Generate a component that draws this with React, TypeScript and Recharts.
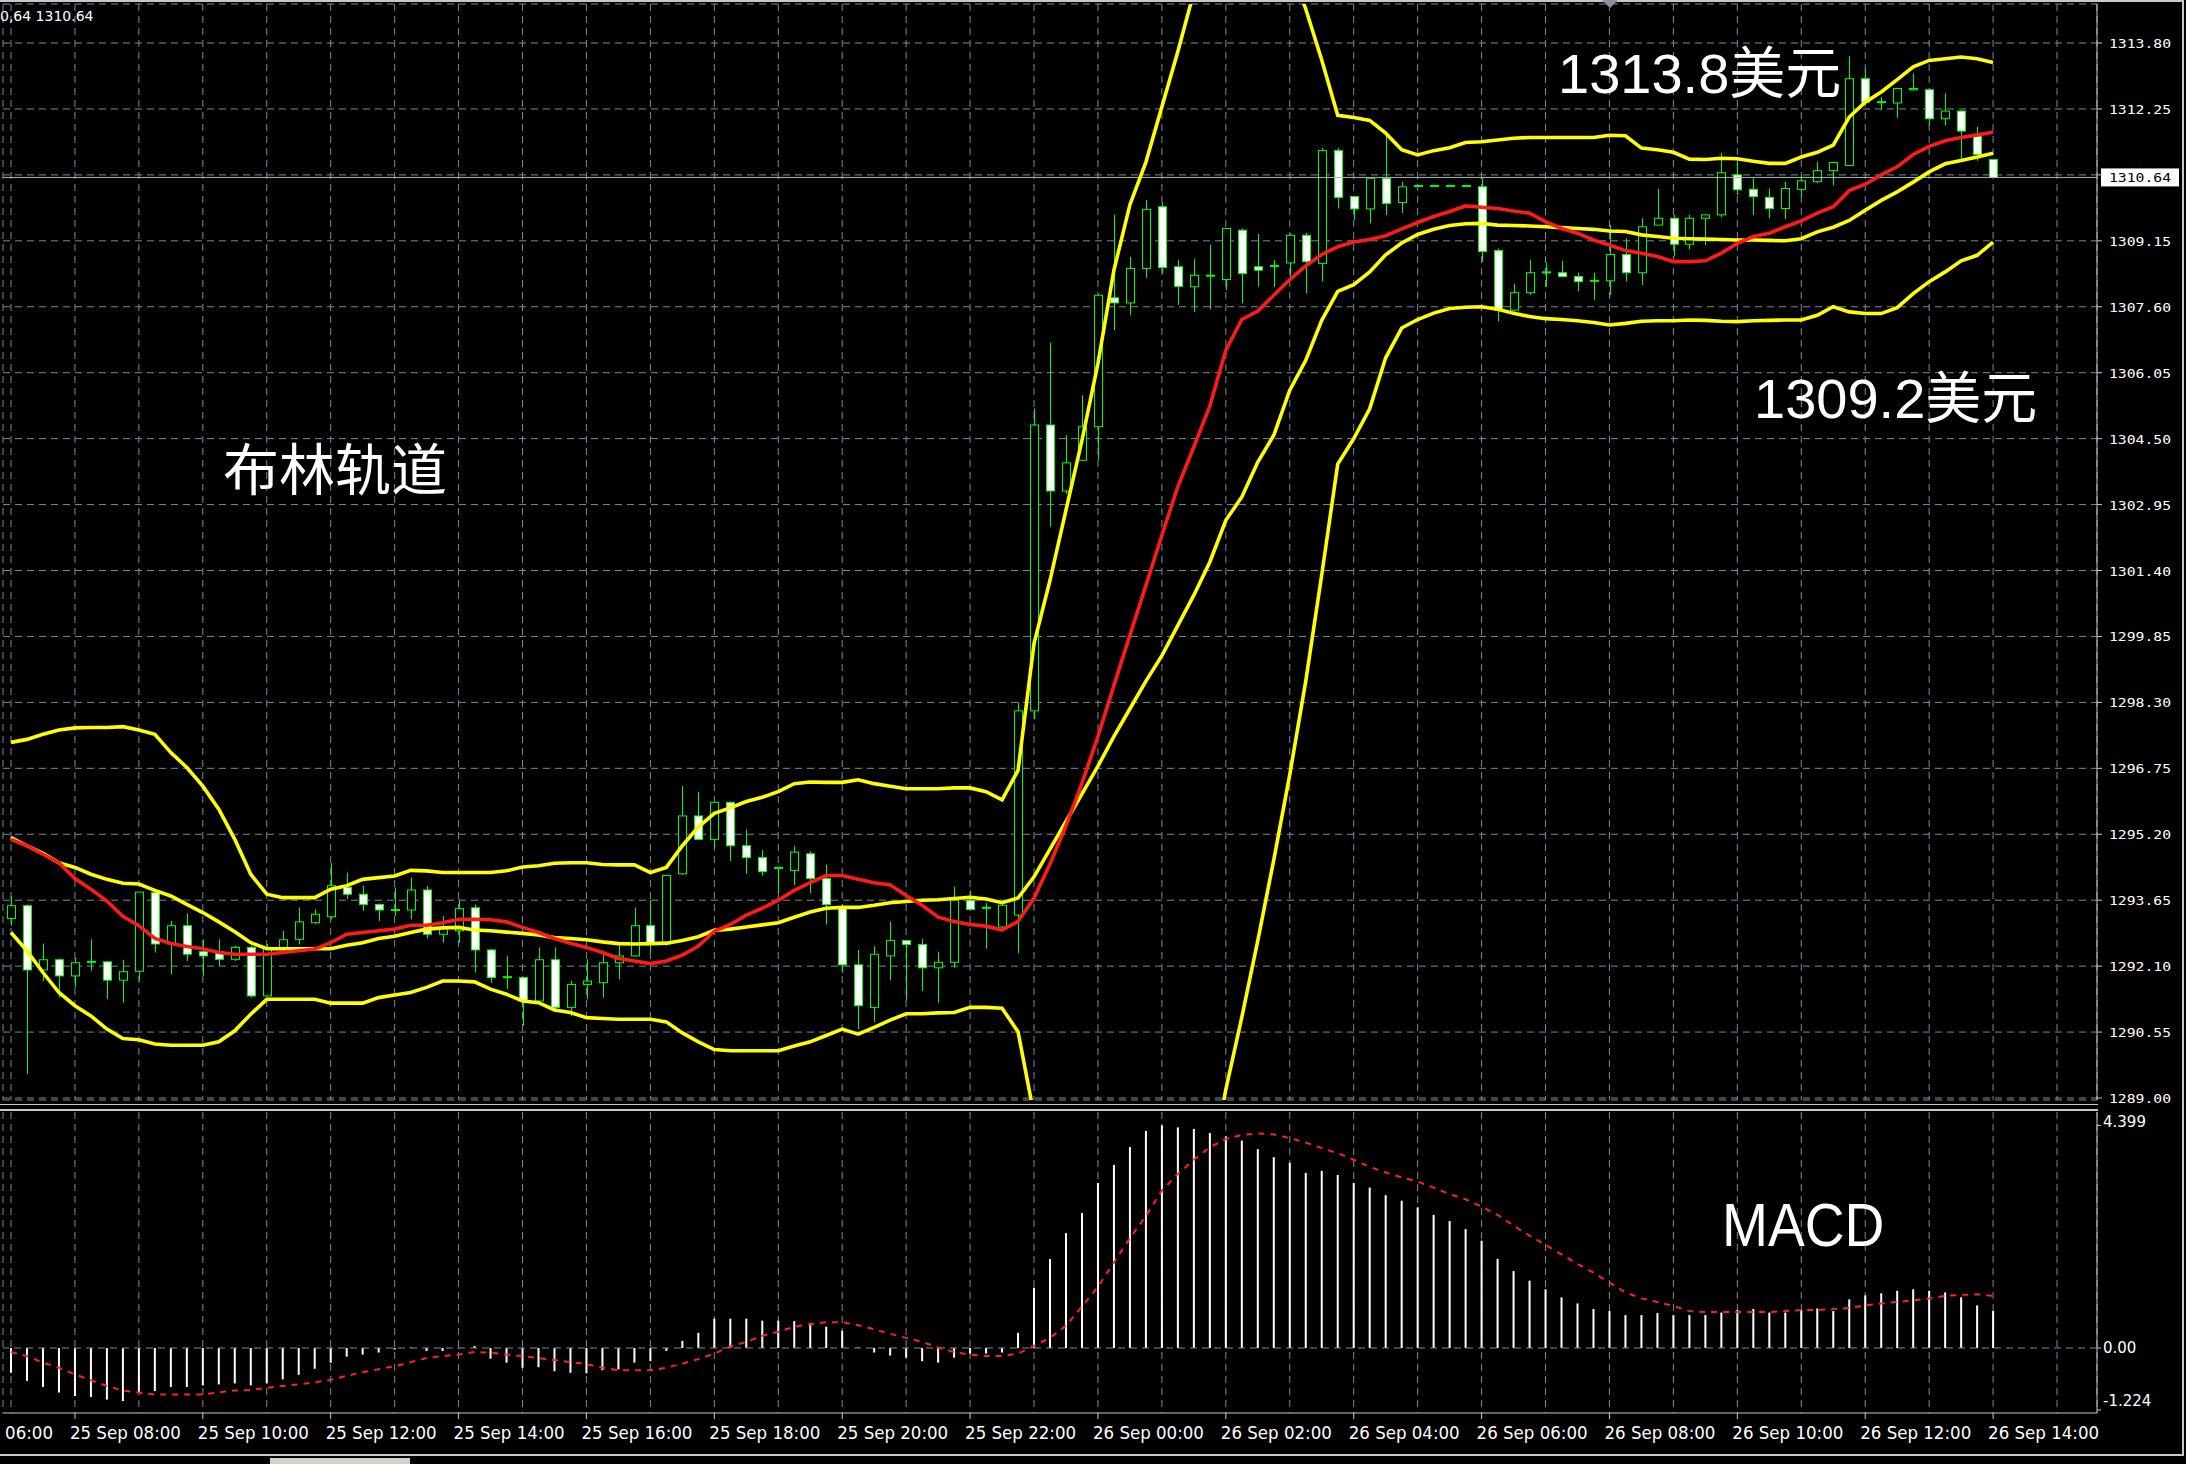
import { ComposedChart, Bar, Line, XAxis, YAxis, CartesianGrid, ReferenceLine } from "recharts";

// 15-minute bars, XAUUSD, 25 Sep 07:00 -> 26 Sep 14:00
const opens = [
  1293.22, 1293.52, 1292.01, 1292.25, 1291.87, 1292.18, 1292.2, 1291.77, 1291.98, 1293.83,
  1292.62, 1293.05, 1292.44, 1292.44, 1292.26, 1292.54, 1291.4, 1292.54, 1292.73, 1293.12,
  1293.26, 1293.95, 1293.79, 1293.55, 1293.42, 1293.42, 1293.89, 1292.85, 1292.93, 1293.47,
  1292.48, 1291.83, 1291.83, 1291.28, 1292.25, 1291.13, 1291.67, 1291.71, 1292.18, 1292.34,
  1293.05, 1292.62, 1294.27, 1295.63, 1295.08, 1295.95, 1294.93, 1294.65, 1294.41, 1294.35,
  1294.74, 1294.16, 1293.5, 1292.13, 1291.13, 1292.34, 1292.7, 1292.61, 1292.06, 1292.19,
  1293.65, 1293.47, 1293.02, 1293.3, 1298.1, 1304.82, 1303.27, 1303.99, 1304.78, 1307.81,
  1307.69, 1308.5, 1309.95, 1308.54, 1308.07, 1308.33, 1308.24, 1309.4, 1308.54, 1308.56,
  1308.63, 1309.28, 1308.62, 1311.27, 1310.19, 1309.9, 1310.62, 1310.05, 1310.44, 1310.44,
  1310.44, 1310.44, 1310.42, 1308.92, 1307.52, 1307.93, 1308.4, 1308.4, 1308.31, 1308.21,
  1308.21, 1308.83, 1308.4, 1309.52, 1309.68, 1309.07, 1309.68, 1309.76, 1310.7, 1310.36,
  1310.17, 1309.91, 1310.36, 1310.54, 1310.8, 1310.92, 1312.96, 1312.41, 1312.39, 1312.7,
  1312.7, 1312.02, 1312.2, 1311.61, 1311.06,
];
const highs = [
  1293.75, 1293.55, 1292.63, 1292.28, 1292.3, 1292.73, 1292.22, 1292.25, 1293.84, 1293.85,
  1293.16, 1293.34, 1292.73, 1292.73, 1292.58, 1292.58, 1292.62, 1292.93, 1293.48, 1293.44,
  1294.52, 1294.3, 1293.99, 1293.57, 1293.95, 1294.18, 1293.99, 1293.28, 1293.67, 1293.55,
  1292.5, 1292.34, 1291.85, 1292.54, 1292.54, 1291.75, 1292.26, 1292.42, 1292.61, 1293.48,
  1293.65, 1294.23, 1296.33, 1296.2, 1295.97, 1295.97, 1295.31, 1294.83, 1294.43, 1294.93,
  1294.8, 1294.48, 1293.55, 1292.48, 1292.57, 1293.14, 1292.72, 1292.74, 1292.44, 1293.97,
  1293.88, 1293.59, 1293.6, 1298.3, 1305.21, 1306.76, 1304.58, 1305.52, 1307.9, 1309.77,
  1308.77, 1310.11, 1310.05, 1308.7, 1308.73, 1309.06, 1309.44, 1309.44, 1309.31, 1308.7,
  1309.32, 1309.34, 1311.33, 1311.33, 1310.2, 1310.62, 1311.72, 1310.54, 1310.44, 1310.44,
  1310.44, 1310.44, 1310.62, 1308.97, 1308.14, 1308.7, 1308.64, 1308.68, 1308.4, 1308.4,
  1309.52, 1309.21, 1309.68, 1310.38, 1309.76, 1309.76, 1309.76, 1311.22, 1311.01, 1310.62,
  1310.38, 1310.54, 1310.7, 1311.01, 1311.01, 1313.49, 1313.2, 1312.53, 1312.73, 1313.08,
  1312.73, 1312.62, 1312.22, 1311.83, 1311.06,
];
const lows = [
  1293.05, 1289.56, 1291.75, 1291.36, 1291.6, 1291.99, 1291.32, 1291.24, 1291.75, 1292.42,
  1291.91, 1292.22, 1291.87, 1292.1, 1292.22, 1291.36, 1291.38, 1292.42, 1292.61, 1293.09,
  1293.2, 1293.67, 1293.4, 1293.16, 1293.28, 1293.2, 1292.75, 1292.65, 1292.65, 1291.95,
  1291.71, 1291.56, 1290.7, 1291.24, 1291.09, 1290.93, 1291.32, 1291.36, 1291.79, 1292.32,
  1292.42, 1292.58, 1294.25, 1295.06, 1294.87, 1294.57, 1294.27, 1294.23, 1293.81, 1294.0,
  1293.81, 1293.08, 1291.94, 1290.62, 1290.79, 1291.77, 1291.3, 1291.52, 1291.24, 1292.06,
  1293.41, 1292.51, 1292.95, 1292.4, 1297.9, 1302.43, 1303.2, 1303.99, 1304.0, 1307.05,
  1307.4, 1308.28, 1308.38, 1307.64, 1307.48, 1307.54, 1307.99, 1307.68, 1308.08, 1308.07,
  1308.23, 1307.91, 1308.19, 1309.91, 1309.64, 1309.56, 1309.76, 1309.8, 1310.44, 1310.44,
  1310.44, 1310.44, 1308.66, 1307.25, 1307.49, 1307.88, 1308.07, 1308.31, 1307.96, 1307.76,
  1307.88, 1308.19, 1308.11, 1309.52, 1308.78, 1308.95, 1309.05, 1309.7, 1310.23, 1309.76,
  1309.68, 1309.66, 1310.17, 1310.5, 1310.46, 1310.92, 1312.37, 1312.22, 1312.04, 1312.68,
  1311.86, 1311.86, 1311.04, 1311.03, 1310.64,
];
const closes = [
  1293.52, 1292.01, 1292.25, 1291.87, 1292.18, 1292.2, 1291.77, 1291.97, 1293.84, 1292.62,
  1293.05, 1292.38, 1292.34, 1292.26, 1292.54, 1291.4, 1292.54, 1292.72, 1293.14, 1293.32,
  1293.99, 1293.79, 1293.55, 1293.42, 1293.4, 1293.89, 1292.85, 1293.0, 1293.45, 1292.48,
  1291.83, 1291.84, 1291.28, 1292.25, 1291.13, 1291.67, 1291.75, 1292.18, 1292.34, 1293.05,
  1292.62, 1294.23, 1295.63, 1295.08, 1295.95, 1294.93, 1294.65, 1294.32, 1294.39, 1294.78,
  1294.16, 1293.55, 1292.13, 1291.17, 1292.38, 1292.7, 1292.61, 1292.06, 1292.19, 1293.65,
  1293.43, 1293.46, 1293.53, 1298.1, 1304.82, 1303.27, 1303.93, 1304.78, 1307.87, 1307.69,
  1308.5, 1309.89, 1308.52, 1308.08, 1308.34, 1308.33, 1309.44, 1308.38, 1308.46, 1308.56,
  1309.28, 1308.66, 1311.27, 1310.17, 1309.9, 1310.62, 1310.03, 1310.42, 1310.44, 1310.44,
  1310.44, 1310.44, 1308.9, 1307.52, 1307.93, 1308.4, 1308.41, 1308.31, 1308.19, 1308.2,
  1308.83, 1308.4, 1309.48, 1309.68, 1309.07, 1309.68, 1309.76, 1310.75, 1310.35, 1310.19,
  1309.91, 1310.38, 1310.56, 1310.8, 1310.99, 1312.96, 1312.41, 1312.41, 1312.73, 1312.73,
  1312.02, 1312.2, 1311.73, 1311.18, 1310.64,
];

// bollinger bands (yellow) and red moving average
const upperBand = [
  1297.36, 1297.43, 1297.55, 1297.65, 1297.7, 1297.71, 1297.71, 1297.73, 1297.65, 1297.55,
  1297.12, 1296.77, 1296.33, 1295.79, 1295.08, 1294.26, 1293.79, 1293.71, 1293.71, 1293.71,
  1293.91, 1293.99, 1294.14, 1294.18, 1294.22, 1294.35, 1294.34, 1294.3, 1294.3, 1294.3,
  1294.3, 1294.34, 1294.43, 1294.46, 1294.52, 1294.53, 1294.53, 1294.49, 1294.48, 1294.48,
  1294.3, 1294.42, 1294.93, 1295.37, 1295.69, 1295.82, 1295.97, 1296.07, 1296.2, 1296.39,
  1296.43, 1296.42, 1296.42, 1296.48, 1296.39, 1296.33, 1296.27, 1296.27, 1296.27, 1296.29,
  1296.29, 1296.2, 1296.01, 1296.7, 1299.68, 1301.17, 1302.82, 1304.46, 1306.27, 1308.46,
  1310.0, 1311.0, 1312.3, 1313.6, 1315.0, 1316.0, 1316.6, 1316.9, 1316.8, 1316.4,
  1315.6, 1314.6, 1313.4, 1312.1, 1312.05, 1311.98, 1311.68, 1311.29, 1311.17, 1311.27,
  1311.34, 1311.46, 1311.48, 1311.52, 1311.56, 1311.58, 1311.58, 1311.58, 1311.58, 1311.58,
  1311.63, 1311.62, 1311.33, 1311.29, 1311.23, 1311.07, 1311.06, 1311.09, 1311.08, 1311.02,
  1310.97, 1310.97, 1311.12, 1311.23, 1311.4, 1312.06, 1312.41, 1312.65, 1312.94, 1313.24,
  1313.39, 1313.43, 1313.47, 1313.43, 1313.34,
];
const midBand = [
  1295.12, 1294.93, 1294.75, 1294.53, 1294.42, 1294.26, 1294.14, 1294.05, 1294.03, 1293.88,
  1293.75, 1293.55, 1293.36, 1293.14, 1292.91, 1292.65, 1292.51, 1292.51, 1292.51, 1292.51,
  1292.51, 1292.59, 1292.65, 1292.75, 1292.8, 1292.89, 1292.97, 1293.0, 1293.01, 1292.95,
  1292.93, 1292.9, 1292.87, 1292.83, 1292.77, 1292.75, 1292.72, 1292.67, 1292.63, 1292.62,
  1292.63, 1292.64, 1292.7, 1292.79, 1292.94, 1292.97, 1293.02, 1293.07, 1293.12, 1293.25,
  1293.37, 1293.46, 1293.48, 1293.48, 1293.53, 1293.59, 1293.62, 1293.65, 1293.66, 1293.69,
  1293.72, 1293.68, 1293.59, 1293.7, 1294.2, 1294.85, 1295.5, 1296.15, 1296.8, 1297.5,
  1298.15, 1298.8, 1299.4, 1300.11, 1300.82, 1301.6, 1302.58, 1303.13, 1303.95, 1304.58,
  1305.64, 1306.34, 1307.28, 1307.96, 1308.12, 1308.42, 1308.82, 1309.1, 1309.3, 1309.42,
  1309.51, 1309.55, 1309.56, 1309.52, 1309.51, 1309.5, 1309.48, 1309.46, 1309.44, 1309.42,
  1309.38, 1309.37, 1309.29, 1309.25, 1309.21, 1309.2, 1309.19, 1309.18, 1309.17, 1309.17,
  1309.16, 1309.15, 1309.2, 1309.36, 1309.47, 1309.63, 1309.87, 1310.1, 1310.3, 1310.53,
  1310.77, 1310.96, 1311.04, 1311.12, 1311.21,
];
const redLine = [
  1295.08, 1294.93, 1294.73, 1294.53, 1294.16, 1293.91, 1293.63, 1293.27, 1293.05, 1292.75,
  1292.63, 1292.56, 1292.51, 1292.42, 1292.38, 1292.38, 1292.38, 1292.42, 1292.46, 1292.5,
  1292.65, 1292.85, 1292.89, 1292.93, 1292.97, 1293.06, 1293.06, 1293.12, 1293.2, 1293.2,
  1293.19, 1293.14, 1293.01, 1292.89, 1292.75, 1292.64, 1292.54, 1292.42, 1292.28, 1292.22,
  1292.16, 1292.22, 1292.36, 1292.57, 1292.92, 1293.08, 1293.3, 1293.46, 1293.65, 1293.88,
  1294.06, 1294.23, 1294.23, 1294.14, 1294.06, 1294.01, 1293.76, 1293.53, 1293.25, 1293.15,
  1293.08, 1293.04, 1292.95, 1293.15, 1293.7, 1294.5, 1295.4, 1296.4, 1297.5, 1298.7,
  1299.88, 1301.05, 1302.23, 1303.37, 1304.31, 1305.27, 1306.58, 1307.3, 1307.5, 1307.87,
  1308.24, 1308.56, 1308.83, 1309.01, 1309.12, 1309.18, 1309.27, 1309.43, 1309.58, 1309.72,
  1309.84, 1309.97, 1309.94, 1309.91, 1309.85, 1309.8, 1309.6, 1309.44, 1309.33, 1309.17,
  1309.05, 1308.92, 1308.86, 1308.78, 1308.66, 1308.66, 1308.68, 1308.86, 1309.09, 1309.25,
  1309.33, 1309.48, 1309.62, 1309.8, 1309.95, 1310.33, 1310.48, 1310.7, 1310.89, 1311.18,
  1311.37, 1311.5, 1311.58, 1311.64, 1311.7,
];
const lowerBand = [
  1292.89, 1292.46, 1291.95, 1291.48, 1291.17, 1290.93, 1290.62, 1290.4, 1290.37, 1290.27,
  1290.24, 1290.24, 1290.24, 1290.32, 1290.58, 1290.97, 1291.32, 1291.32, 1291.32, 1291.32,
  1291.23, 1291.23, 1291.23, 1291.36, 1291.42, 1291.48, 1291.6, 1291.75, 1291.75, 1291.73,
  1291.56, 1291.44, 1291.28, 1291.24, 1291.07, 1291.01, 1290.89, 1290.87, 1290.85, 1290.85,
  1290.85, 1290.79, 1290.53, 1290.32, 1290.14, 1290.11, 1290.11, 1290.11, 1290.11, 1290.22,
  1290.32, 1290.47, 1290.62, 1290.5, 1290.66, 1290.83, 1290.98, 1290.98, 1291.0, 1291.01,
  1291.13, 1291.13, 1291.11, 1290.56, 1288.6, 1286.5, 1284.4, 1282.6, 1281.2, 1280.4,
  1280.2, 1280.6, 1281.6, 1283.2, 1285.2, 1287.2, 1289.2, 1290.9, 1292.7, 1294.6,
  1296.6, 1298.8, 1301.3, 1303.9, 1304.5, 1305.2, 1306.4, 1307.1, 1307.3, 1307.45,
  1307.56, 1307.59, 1307.6, 1307.54, 1307.45, 1307.37, 1307.32, 1307.3, 1307.27, 1307.23,
  1307.17, 1307.21, 1307.26, 1307.27, 1307.27, 1307.29, 1307.28, 1307.26, 1307.25, 1307.27,
  1307.28, 1307.29, 1307.29, 1307.4, 1307.6, 1307.48, 1307.44, 1307.44, 1307.58, 1307.91,
  1308.19, 1308.42, 1308.68, 1308.81, 1309.12,
];

// MACD panel
const macdHist = [
  -0.49, -0.65, -0.77, -0.88, -0.95, -0.97, -1.02, -1.05, -0.88, -0.85,
  -0.77, -0.77, -0.74, -0.72, -0.7, -0.74, -0.7, -0.62, -0.53, -0.41,
  -0.29, -0.17, -0.13, -0.09, -0.03, 0.01, -0.06, -0.06, -0.01, 0.04,
  -0.21, -0.29, -0.39, -0.38, -0.46, -0.49, -0.5, -0.44, -0.42, -0.29,
  -0.26, -0.06, 0.14, 0.3, 0.58, 0.58, 0.58, 0.54, 0.54, 0.53,
  0.49, 0.42, 0.34, 0.01, -0.09, -0.15, -0.19, -0.26, -0.29, -0.19,
  -0.11, -0.11, -0.09, 0.3, 1.19, 1.76, 2.27, 2.67, 3.26, 3.62,
  3.97, 4.29, 4.4, 4.36, 4.33, 4.25, 4.18, 4.1, 3.93, 3.77,
  3.66, 3.46, 3.5, 3.42, 3.26, 3.17, 3.02, 2.91, 2.78, 2.63,
  2.51, 2.35, 2.12, 1.76, 1.52, 1.33, 1.16, 1.0, 0.88, 0.77,
  0.73, 0.65, 0.65, 0.69, 0.65, 0.65, 0.65, 0.7, 0.75, 0.77,
  0.7, 0.7, 0.75, 0.78, 0.73, 0.96, 1.04, 1.08, 1.13, 1.16,
  1.13, 1.1, 1.0, 0.84, 0.73,
];
const macdSignal = [
  -0.08, -0.16, -0.29, -0.39, -0.52, -0.64, -0.75, -0.84, -0.88, -0.92,
  -0.92, -0.92, -0.92, -0.88, -0.84, -0.83, -0.79, -0.75, -0.72, -0.68,
  -0.63, -0.55, -0.48, -0.42, -0.36, -0.28, -0.2, -0.16, -0.13, -0.08,
  -0.09, -0.13, -0.16, -0.2, -0.24, -0.28, -0.32, -0.39, -0.44, -0.44,
  -0.44, -0.39, -0.31, -0.22, -0.11, 0.03, 0.12, 0.24, 0.32, 0.42,
  0.47, 0.51, 0.51, 0.45, 0.37, 0.28, 0.2, 0.12, 0.01, -0.08,
  -0.13, -0.16, -0.16, -0.11, 0.04, 0.2, 0.44, 0.82, 1.21, 1.69,
  2.17, 2.61, 3.11, 3.44, 3.72, 3.97, 4.13, 4.21, 4.24, 4.22,
  4.15, 4.06, 3.95, 3.85, 3.72, 3.58, 3.47, 3.37, 3.29, 3.17,
  3.04, 2.94, 2.79, 2.63, 2.42, 2.22, 2.04, 1.85, 1.66, 1.49,
  1.29, 1.1, 0.98, 0.91, 0.83, 0.73, 0.71, 0.71, 0.71, 0.71,
  0.71, 0.73, 0.75, 0.75, 0.77, 0.79, 0.84, 0.88, 0.91, 0.94,
  0.98, 1.03, 1.05, 1.06, 1.03,
];

const priceTicks = [
  1313.8, 1312.25, 1310.7, 1309.15, 1307.6, 1306.05, 1304.5, 1302.95, 1301.4,
  1299.85, 1298.3, 1296.75, 1295.2, 1293.65, 1292.1, 1290.55, 1289.0,
];
const priceTickLabels = [
  "1313.80", "1312.25", "", "1309.15", "1307.60", "1306.05", "1304.50", "1302.95", "1301.40",
  "1299.85", "1298.30", "1296.75", "1295.20", "1293.65", "1292.10", "1290.55", "1289.00",
];
const lastPrice = 1310.64;
const macdTicks = [4.399, 0, -1.224];
const macdTickLabels = ["4.399", "0.00", "-1.224"];

// bar index of each time label (bar 0 = 25 Sep 07:00)
const labelBars = [-4, 4, 12, 20, 28, 36, 44, 52, 60, 68, 76, 84, 92, 100, 108, 116, 124];
const labelTexts = [
  "25 Sep 06:00", "25 Sep 08:00", "25 Sep 10:00", "25 Sep 12:00", "25 Sep 14:00",
  "25 Sep 16:00", "25 Sep 18:00", "25 Sep 20:00", "25 Sep 22:00", "26 Sep 00:00",
  "26 Sep 02:00", "26 Sep 04:00", "26 Sep 06:00", "26 Sep 08:00", "26 Sep 10:00",
  "26 Sep 12:00", "26 Sep 14:00",
];

const SHIFT_BARS = 6; // empty space right of the last bar
const BAR_PX = 16;
const gridTicks = Array.from({ length: 33 }, (_, k) => k * 4);

const rows = Array.from({ length: opens.length + SHIFT_BARS }, (_, i) =>
  i < opens.length
    ? {
        i,
        o: opens[i],
        h: highs[i],
        l: lows[i],
        c: closes[i],
        up: upperBand[i],
        mid: midBand[i],
        ma: redLine[i],
        lo: lowerBand[i],
        hist: macdHist[i],
        sig: macdSignal[i],
      }
    : { i }
);

const GREEN = "#00ff00";
const GRID = "#7b8a99";
const FRAME = "#c8c8c8";

function Candle(props: any) {
  const { x, y, width, height, payload } = props;
  if (!payload || payload.o == null) return null;
  const { o, h, l, c } = payload;
  const top = height < 0 ? y + height : y;
  const hgt = Math.abs(height || 0);
  const span = h - l;
  const py = (p: number) => (span > 0 ? top + ((h - p) / span) * hgt : top);
  const cx = Math.round(x + width / 2) + 0.5;
  const bTop = py(Math.max(o, c));
  const bBot = py(Math.min(o, c));
  const flat = bBot - bTop < 1;
  return (
    <g>
      <line x1={cx} x2={cx} y1={py(h)} y2={py(l)} stroke={GREEN} strokeWidth={1} />
      {flat ? (
        <line x1={cx - 4.5} x2={cx + 4.5} y1={bTop} y2={bTop} stroke={GREEN} strokeWidth={2} />
      ) : (
        <rect
          x={cx - 4}
          y={bTop}
          width={8}
          height={bBot - bTop}
          fill={c < o ? "#ffffff" : "#000000"}
          stroke={GREEN}
          strokeWidth={1}
        />
      )}
    </g>
  );
}

function PriceTick(props: any) {
  const { x, y, payload } = props;
  const k = priceTicks.indexOf(payload.value);
  if (k < 0 || !priceTickLabels[k]) return null;
  return (
    <text
      x={x + 7}
      y={y + 5}
      fill="#ffffff"
      fontSize={13}
      fontFamily="'DejaVu Sans Mono', monospace"
      textLength={62}
      lengthAdjust="spacingAndGlyphs"
    >
      {priceTickLabels[k]}
    </text>
  );
}

function PriceTag(props: any) {
  const vb = props.viewBox || {};
  const bx = (vb.x ?? 0) + (vb.width ?? 0) + 4;
  const by = vb.y ?? 0;
  return (
    <g>
      <rect x={bx} y={by - 9} width={78} height={18} fill="#ffffff" />
      <text
        x={bx + 8}
        y={by + 5}
        fill="#000000"
        fontSize={13}
        fontFamily="'DejaVu Sans Mono', monospace"
        textLength={62}
        lengthAdjust="spacingAndGlyphs"
      >
        {lastPrice.toFixed(2)}
      </text>
    </g>
  );
}

function MacdTick(props: any) {
  const { x, y, payload } = props;
  const k = macdTicks.indexOf(payload.value);
  if (k < 0) return null;
  const dy = payload.value > 0 ? 2 : payload.value < 0 ? -4 : 5;
  return (
    <text x={x + 2} y={y + dy} fill="#ffffff" fontSize={15} fontFamily="'DejaVu Sans', sans-serif">
      {macdTickLabels[k]}
    </text>
  );
}

function TimeTick(props: any) {
  const { x, y, payload } = props;
  const v = payload.value;
  let k = labelBars.indexOf(v);
  let lx = x - 5;
  if (v === 0) {
    k = labelBars.indexOf(-4);
    lx = x - 4 * BAR_PX - 5;
  }
  if (k < 0) return null;
  return (
    <g>
      {v !== 0 && <line x1={x} x2={x} y1={y} y2={y + 6} stroke={FRAME} />}
      <text
        x={lx}
        y={y + 26}
        fill="#ffffff"
        fontSize={17}
        fontFamily="'DejaVu Sans', sans-serif"
        textLength={111}
        lengthAdjust="spacingAndGlyphs"
      >
        {labelTexts[k]}
      </text>
    </g>
  );
}

const bigText = {
  position: "absolute" as const,
  color: "#ffffff",
  fontSize: 56,
  lineHeight: 1,
  whiteSpace: "nowrap" as const,
  fontFamily: "'Liberation Sans', 'Noto Sans CJK SC', sans-serif",
};

export default function App() {
  return (
    <div
      style={{
        position: "absolute",
        left: 0,
        top: 0,
        width: 2186,
        height: 1464,
        background: "#000000",
        overflow: "hidden",
      }}
    >
      <div style={{ position: "absolute", left: 0, top: 0 }}>
        <ComposedChart width={2186} height={1112} data={rows} margin={{ top: 4, right: 0, bottom: 12, left: 3 }}>
          <CartesianGrid stroke={GRID} strokeDasharray="7 5" />
          <XAxis dataKey="i" type="category" hide ticks={gridTicks} interval={0} />
          <YAxis
            orientation="right"
            width={89}
            domain={[1288.953, 1314.717]}
            allowDataOverflow
            ticks={priceTicks}
            interval={0}
            tick={<PriceTick />}
            tickSize={5}
            tickMargin={0}
            tickLine={{ stroke: FRAME }}
            axisLine={{ stroke: FRAME }}
          />
          <ReferenceLine y={lastPrice} stroke="#aeb6bf" strokeWidth={1} label={(p: any) => <PriceTag {...p} />} />
          <Bar dataKey={(d: any) => (d.o == null ? null : [d.l, d.h])} shape={<Candle />} isAnimationActive={false} />
          <Line dataKey="up" stroke="#ffff00" strokeWidth={3.6} dot={false} isAnimationActive={false} />
          <Line dataKey="lo" stroke="#ffff00" strokeWidth={3.6} dot={false} isAnimationActive={false} />
          <Line dataKey="mid" stroke="#ffff00" strokeWidth={3.6} dot={false} isAnimationActive={false} />
          <Line dataKey="ma" stroke="#ff1a1a" strokeWidth={3.6} dot={false} isAnimationActive={false} />
        </ComposedChart>
      </div>

      <div style={{ position: "absolute", left: 0, top: 1100 }}>
        <ComposedChart width={2186} height={364} data={rows} margin={{ top: 12, right: 0, bottom: 0, left: 3 }}>
          <CartesianGrid stroke={GRID} strokeDasharray="7 5" horizontal={false} />
          <XAxis
            dataKey="i"
            type="category"
            ticks={gridTicks}
            interval={0}
            height={51}
            tick={<TimeTick />}
            tickLine={false}
            tickSize={0}
            tickMargin={0}
            axisLine={{ stroke: FRAME }}
          />
          <YAxis
            orientation="right"
            width={89}
            domain={[-1.285, 4.664]}
            allowDataOverflow
            ticks={macdTicks}
            interval={0}
            tick={<MacdTick />}
            tickSize={4}
            tickMargin={0}
            tickLine={{ stroke: FRAME }}
            axisLine={{ stroke: FRAME }}
          />
          <ReferenceLine y={0} stroke={GRID} strokeDasharray="7 5" />
          <Bar dataKey="hist" barSize={2} fill="#ffffff" isAnimationActive={false} />
          <Line dataKey="sig" stroke="#ff2020" strokeWidth={2} strokeDasharray="6 6" dot={false} isAnimationActive={false} />
        </ComposedChart>
      </div>

      {/* panel frames */}
      <div style={{ position: "absolute", left: 0, top: 0, width: 2184, height: 2, background: FRAME }} />
      <div style={{ position: "absolute", left: 0, top: 1104, width: 2098, height: 1, background: FRAME }} />
      <div style={{ position: "absolute", left: 0, top: 1109, width: 2098, height: 2, background: FRAME }} />
      <div style={{ position: "absolute", left: 2182, top: 0, width: 2, height: 1456, background: FRAME }} />
      <div style={{ position: "absolute", left: 0, top: 1454, width: 2184, height: 2, background: FRAME }} />
      <div style={{ position: "absolute", left: 270, top: 1458, width: 140, height: 6, background: "#d4d0c8" }} />
      <svg style={{ position: "absolute", left: 1602, top: 0 }} width={16} height={10}>
        <polygon points="0,0 16,0 8,8" fill="#8a949e" />
      </svg>

      <div
        style={{
          position: "absolute",
          left: 0,
          top: 9,
          color: "#ffffff",
          fontSize: 14,
          lineHeight: 1,
          fontFamily: "'DejaVu Sans', sans-serif",
          whiteSpace: "nowrap",
        }}
      >
        0,64 1310.64
      </div>

      <div style={{ ...bigText, left: 1558, top: 46 }}>1313.8美元</div>
      <div style={{ ...bigText, left: 1754, top: 371 }}>1309.2美元</div>
      <div style={{ ...bigText, left: 223, top: 438, fontFamily: "'Noto Sans CJK SC', sans-serif" }}>布林轨道</div>
      <div
        style={{
          ...bigText,
          left: 1722,
          top: 1194,
          fontSize: 62,
          transform: "scaleX(0.89)",
          transformOrigin: "0 0",
        }}
      >
        MACD
      </div>
    </div>
  );
}
